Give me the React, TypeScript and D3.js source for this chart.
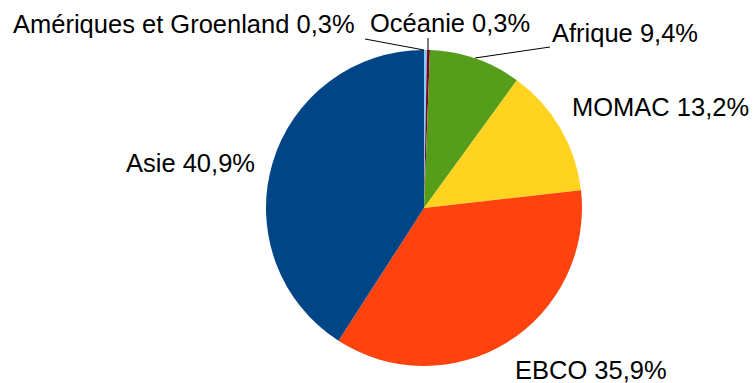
import React from "react";
import * as d3 from "d3";

const categories = ["Amériques et Groenland", "Océanie", "Afrique", "MOMAC", "EBCO", "Asie"];
const values = [0.3, 0.3, 9.4, 13.2, 35.9, 40.9];
const valueLabels = ["0,3%", "0,3%", "9,4%", "13,2%", "35,9%", "40,9%"];
const colors = ["#83caff", "#7e0021", "#579d1c", "#ffd320", "#ff420e", "#004586"];

// label placement (text anchor point, baseline) and optional leader line end
const labelPos: { x: number; y: number; leader?: [number, number, number, number] }[] = [
  { x: 13, y: 33, leader: [365, 39, 424, 50] },
  { x: 370, y: 32, leader: [428, 38, 428, 50] },
  { x: 552, y: 42, leader: [550, 47, 475, 58] },
  { x: 572, y: 116 },
  { x: 515, y: 379 },
  { x: 126, y: 172 },
];

export default function App() {
  const W = 754, H = 383;
  const cx = 424, cy = 208, r = 158;
  const pie = d3.pie<number>().sort(null).value((d) => d).startAngle(0).endAngle(2 * Math.PI);
  const arcs = pie(values);
  const arc = d3.arc<d3.PieArcDatum<number>>().innerRadius(0).outerRadius(r);
  return (
    <svg width={W} height={H} style={{ position: "absolute", left: 0, top: 0, background: "#fff" }}>
      <g transform={`translate(${cx},${cy})`}>
        {arcs.map((a, i) => (
          <path key={i} d={arc(a) || ""} fill={colors[i]} />
        ))}
      </g>
      {labelPos.map((p, i) =>
        p.leader ? (
          <line key={"l" + i} x1={p.leader[0]} y1={p.leader[1]} x2={p.leader[2]} y2={p.leader[3]} stroke="#000" strokeWidth={1} />
        ) : null
      )}
      {labelPos.map((p, i) => (
        <text key={"t" + i} x={p.x} y={p.y} fontFamily="Liberation Sans, Arial, sans-serif" fontSize={25.5} fill="#000">
          {categories[i] + " " + valueLabels[i]}
        </text>
      ))}
    </svg>
  );
}
